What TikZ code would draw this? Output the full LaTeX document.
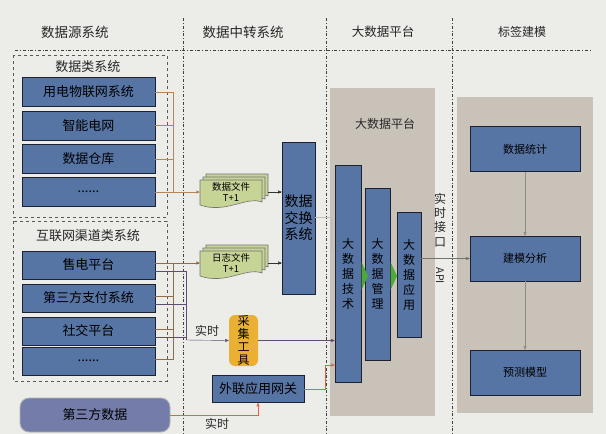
\documentclass[tikz,border=0pt]{standalone}
\usepackage{fontspec}
\setmainfont{Noto Sans CJK SC}
\usepackage{tikz}
\usetikzlibrary{arrows}
\definecolor{paper_gray}{RGB}{236,236,233}
\definecolor{box_blue}{RGB}{86,116,164}
\definecolor{box_edge}{RGB}{30,34,48}
\definecolor{panel_gray}{RGB}{200,194,184}
\definecolor{doc_green}{RGB}{198,212,150}
\definecolor{tool_orange}{RGB}{234,176,52}
\definecolor{third_blue}{RGB}{116,124,170}
\definecolor{edge_brown}{RGB}{180,135,90}
\definecolor{edge_purple}{RGB}{95,75,115}
\definecolor{edge_red}{RGB}{228,98,76}
\definecolor{arrow_green}{RGB}{78,168,58}

\tikzset{docstack/.pic={
  \foreach \s in {6,3,0}
    \filldraw[draw=black!55, fill=doc_green, shift={(\s,-\s)}]
      (0,0) -- (62,0) -- (62,22) .. controls (46,16) and (26,34) .. (0,25) -- cycle;
}}

\begin{document}
\begin{tikzpicture}[x=1pt,y=-1pt,>=stealth',semithick]
    \tikzstyle{sysbox}=[draw=box_edge, line width=0.9pt, fill=box_blue, text=black, inner sep=0pt, font=\fontsize{13}{15}\selectfont]
    \tikzstyle{vsysbox}=[sysbox, align=center, font=\fontsize{12}{15}\selectfont]
    \tikzstyle{tagbox}=[sysbox, minimum width=110, minimum height=45, font=\fontsize{11}{13}\selectfont]
    \tikzstyle{groupbox}=[draw=black!65, dashed, thin]
    \tikzstyle{laneline}=[draw=black!75, dash dot, thin]
    \tikzstyle{headtext}=[font=\fontsize{13.5}{16}\selectfont, text=black!85]
    \tikzstyle{notetext}=[font=\fontsize{12}{14}\selectfont, text=black!85, inner sep=1pt]
    \tikzstyle{docpage}=[align=center, minimum width=62, minimum height=25, inner sep=0pt, font=\fontsize{9.5}{10.5}\selectfont]

    \fill[paper_gray] (0,0) rectangle (606,434);
    \useasboundingbox (0,0) rectangle (606,434);

    % lanes and headings
    \draw[laneline] (15,50) -- (592,50);
    \draw[laneline] (183,18) -- (183,434);
    \draw[laneline] (326,18) -- (326,434);
    \draw[laneline] (452,18) -- (452,434);
    \node[headtext] (hsrc)  at (75,32)  {数据源系统};
    \node[headtext] (hmid)  at (243,32) {数据中转系统};
    \node[headtext, font=\fontsize{12.5}{15}\selectfont] (hbig) at (383,32) {大数据平台};
    \node[headtext, font=\fontsize{12}{15}\selectfont]   (htag) at (522,32) {标签建模};

    % source systems
    \draw[groupbox] (13,55) rectangle (167,217);
    \draw[groupbox] (13,221) rectangle (167,381);
    \node[headtext, font=\fontsize{13}{15}\selectfont] (dtitle) at (88,67)  {数据类系统};
    \node[headtext, font=\fontsize{13}{15}\selectfont] (ctitle) at (88,236) {互联网渠道类系统};

    \node[sysbox, minimum width=133, minimum height=29] (d1) at (88.5,92)    {用电物联网系统};
    \node[sysbox, minimum width=133, minimum height=29] (d2) at (88.5,125.5) {智能电网};
    \node[sysbox, minimum width=133, minimum height=29] (d3) at (88.5,159)   {数据仓库};
    \node[sysbox, minimum width=133, minimum height=29] (d4) at (88.5,192)   {......};

    \node[sysbox, minimum width=133, minimum height=28] (c1) at (88.5,265) {售电平台};
    \node[sysbox, minimum width=133, minimum height=28] (c2) at (88.5,298) {第三方支付系统};
    \node[sysbox, minimum width=133, minimum height=28] (c3) at (88.5,331) {社交平台};
    \node[sysbox, minimum width=133, minimum height=28] (c4) at (88.5,361) {......};

    \node[sysbox, draw=black!30, fill=third_blue, rounded corners=9, minimum width=150, minimum height=34] (tp) at (95,415) {第三方数据};

    % transfer systems
    \pic at (200,180) {docstack};
    \node[docpage] (dfile) at (231,192) {数据文件\\T+1};
    \pic at (200,251) {docstack};
    \node[docpage] (lfile) at (231,263) {日志文件\\T+1};

    \node[vsysbox, minimum width=33, minimum height=152, font=\fontsize{14}{16.5}\selectfont] (xchg) at (298.5,218) {数据\\交换\\系统};
    \node[vsysbox, draw=none, fill=tool_orange, rounded corners=6, minimum width=29, minimum height=51, font=\fontsize{12}{12.7}\selectfont] (caiji) at (243.5,340.5) {采\\集\\工\\具};
    \node[sysbox, minimum width=92, minimum height=27] (gw) at (258,389) {外联应用网关};
    \node[notetext] (rt1) at (207,331) {实时};
    \node[notetext] (rt2) at (217,424) {实时};

    % big data platform
    \fill[panel_gray] (330,88) rectangle (435,416);
    \node[headtext, font=\fontsize{12}{14}\selectfont] (btitle) at (385,124) {大数据平台};
    \node[vsysbox, minimum width=26, minimum height=217] (tech) at (348,273.5) {大\\数\\据\\技\\术};
    \node[vsysbox, minimum width=25, minimum height=172] (mgmt) at (377.5,274) {大\\数\\据\\管\\理};
    \node[vsysbox, minimum width=24, minimum height=125] (app)  at (409,274.5) {大\\数\\据\\应\\用};
    \fill[arrow_green] (361.5,262) -- (368,276) -- (361.5,290) -- cycle;
    \fill[arrow_green] (390.5,262) -- (397,276) -- (390.5,290) -- cycle;

    \node[notetext, align=center, font=\fontsize{12}{14.2}\selectfont] (rtapi) at (440,220) {实\\时\\接\\口};
    \node[notetext, rotate=-90, font=\fontsize{10.5}{12}\selectfont] (api) at (440,276) {API};

    % tag modelling
    \fill[panel_gray] (457,97) rectangle (593,413);
    \node[tagbox] (stat)  at (525,149)   {数据统计};
    \node[tagbox] (model) at (525,258.5) {建模分析};
    \node[tagbox] (pred)  at (525,372.5) {预测模型};

    % connectors
    \coordinate (busA) at (173,192);
    \coordinate (busB) at (173,263);
    \coordinate (busC) at (186,340);
    \coordinate (xbend) at (331,248);
    \coordinate (gwbend) at (325,365);

    \foreach \i in {1,...,4}
      \draw[edge_brown, thin] (d\i.east) -| (busA);
    \foreach \i in {1,...,4}
      \draw[edge_brown!80!black, thin] (c\i.east) ++(0,-2) -| (busB);
    \foreach \i in {1,2,3}
      \draw[edge_purple, thin] (c\i.east) ++(0,6) -| (busC);

    \path[thin]
     (busA) edge[->, edge_brown] (dfile.west)
     (busB) edge[->, edge_brown!80!black] (lfile.west)
     (busC) edge[->, edge_purple] (caiji.west)
     ([xshift=6pt]dfile.east) edge[->, black!80] (xchg.west |- dfile.east)
     ([xshift=6pt]lfile.east) edge[->, black!80] (xchg.west |- lfile.east)
     (caiji.east) edge[->, edge_purple] (tech.west |- caiji.east)
     (app.east |- model.west) edge[->, black!55] (model.west)
     (stat) edge[->, black!45] (model)
     (model) edge[->, black!45] (pred)
     ;
    \draw[->, thin, black!25] (xchg.east |- 0,217) -| (xbend) -- (tech.west |- xbend);
    \draw[->, thin, edge_red] (tp.east) -| (gw.south);
    \draw[->, thin, edge_red] (gw.east) -| (gwbend) -- (tech.west |- gwbend);
\end{tikzpicture}
\end{document}
